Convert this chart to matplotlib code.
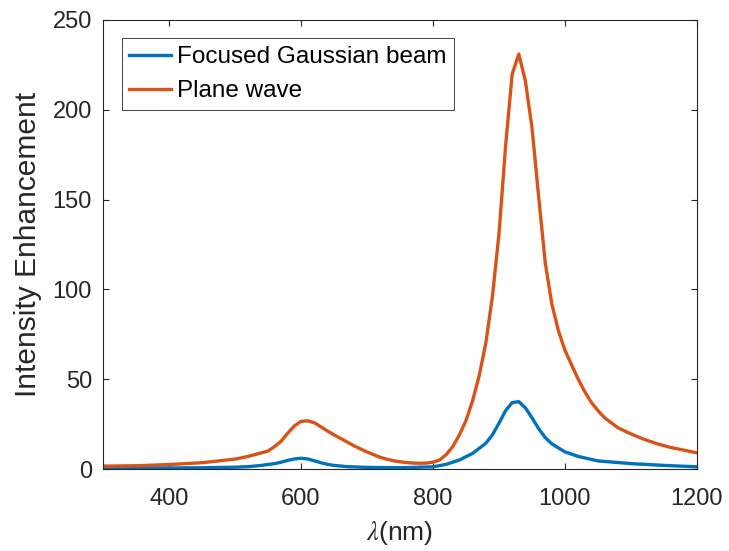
import matplotlib
matplotlib.use("Agg")
import matplotlib.pyplot as plt

# Data
wl_plane = [300, 350, 400, 450, 500, 520, 540, 550, 560, 570, 580, 590, 600, 610, 620, 630,
            640, 650, 660, 670, 680, 690, 700, 710, 720, 730, 740, 750, 760, 770, 780, 790,
            800, 810, 820, 830, 840, 850, 860, 870, 880, 890, 900, 910, 920, 930, 940, 950,
            960, 970, 980, 990, 1000, 1010, 1020, 1030, 1040, 1050, 1060, 1080, 1100, 1120,
            1140, 1160, 1180, 1200]
plane_wave = [1.6, 1.8, 2.5, 3.5, 5.5, 7, 9, 10, 12.5, 15.5, 20, 24, 26.5, 26.8, 25.8, 23.5,
              21.2, 19, 17, 15, 13, 11.2, 9.5, 8, 6.5, 5.5, 4.6, 4, 3.6, 3.3, 3.2, 3.3,
              3.8, 5, 8, 12.5, 19, 27, 38, 52, 70, 96, 131, 180, 220, 231, 216, 190,
              152, 115, 92, 77, 66, 58, 50, 43, 37, 32.5, 28.5, 23, 19.5, 16.5,
              14, 12, 10.5, 9]

wl_gauss = [300, 400, 450, 500, 520, 540, 560, 570, 580, 590, 600, 610, 620, 630, 640, 650,
            670, 700, 750, 800, 820, 840, 860, 880, 890, 900, 910, 920, 930, 940, 950, 960,
            970, 980, 1000, 1020, 1050, 1100, 1150, 1200]
gaussian = [0.5, 0.6, 0.7, 1.0, 1.3, 2, 3, 3.8, 4.8, 5.6, 6, 5.6, 4.6, 3.5, 2.6, 2,
            1.3, 0.9, 0.7, 1.2, 2.6, 5, 8.7, 14.3, 19, 25.5, 32.5, 37, 37.5, 34, 28.5, 22.5,
            17.5, 14, 9.5, 7, 4.5, 3, 2, 1.2]

x_ticks = [400, 600, 800, 1000, 1200]
y_ticks = [0, 50, 100, 150, 200, 250]

plt.rcParams['font.family'] = ['Liberation Sans', 'DejaVu Sans']
plt.rcParams['mathtext.fontset'] = 'stix'

fig = plt.figure(figsize=(7.29, 5.51), dpi=100)
ax = fig.add_axes([103/729, 1-469/551, (697-103)/729, (469-20)/551])

c_blue = '#0072BD'
c_orange = '#D95319'
ax.plot(wl_gauss, gaussian, color=c_blue, lw=2.4, label='Focused Gaussian beam')
ax.plot(wl_plane, plane_wave, color=c_orange, lw=2.4, label='Plane wave')

ax.set_xlim(300, 1200)
ax.set_ylim(0, 250)
ax.set_xticks(x_ticks)
ax.set_yticks(y_ticks)
ax.tick_params(direction='in', length=4, width=0.8, colors='#262626', labelsize=17,
               top=True, right=True)
ax.tick_params(axis='x', pad=14)
ax.tick_params(axis='y', pad=8)
for sp in ax.spines.values():
    sp.set_color('#262626')
    sp.set_linewidth(0.8)

ax.set_xlabel(r'$\lambda$(nm)', fontsize=19, color='#262626', labelpad=6)
ax.set_ylabel('Intensity Enhancement', fontsize=21.5, color='#262626', labelpad=7.5)

leg = ax.legend(loc='upper left', bbox_to_anchor=(121.7/729, 1-38.3/551),
                bbox_transform=fig.transFigure, fontsize=17.5, frameon=True,
                fancybox=False, borderpad=0.32, handlelength=1.7, handletextpad=0.25,
                labelspacing=0.5, borderaxespad=0)
leg.get_frame().set_edgecolor('#262626')
leg.get_frame().set_linewidth(0.6)
leg.get_frame().set_alpha(1)

fig.savefig('out.png', dpi=100)
